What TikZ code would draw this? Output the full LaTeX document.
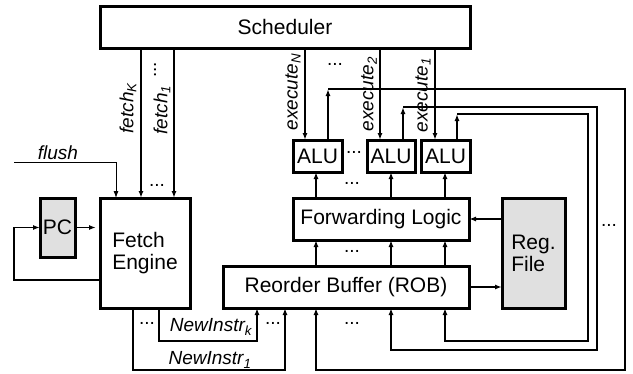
\documentclass[tikz,border=0pt]{standalone}
\usepackage{fontspec}
\setmainfont{Liberation Sans}
\usetikzlibrary{arrows.meta}
\definecolor{boxgray}{RGB}{224,224,224}
\begin{document}
\begin{tikzpicture}[x=1pt,y=-1pt,
  blk/.style={draw,line width=3pt,inner sep=0pt,outer sep=0pt,font=\fontsize{21}{22}\selectfont},
  shaded/.style={blk,fill=boxgray},
  conn/.style={line width=1.8pt,-{Latex[length=7pt,width=5pt]}},
  lbl/.style={font=\fontsize{19}{20}\selectfont\itshape,inner sep=0pt},
  dots/.style={font=\fontsize{19}{20}\selectfont,inner sep=0pt}]
\useasboundingbox (0,0) rectangle (633,373);
% blocks
\node[blk,minimum width=370pt,minimum height=42pt] (sched) at (285,27) {Scheduler};
\node[blk,minimum width=90pt,minimum height=110pt,align=left] (fetch) at (145,253) {Fetch\\Engine};
\node[shaded,minimum width=35pt,minimum height=59pt] (pc) at (57.5,227.5) {PC};
\node[blk,minimum width=49pt,minimum height=32pt] (aluN) at (317.5,156) {ALU};
\node[blk,minimum width=48pt,minimum height=32pt] (alu2) at (391,156) {ALU};
\node[blk,minimum width=49pt,minimum height=32pt] (alu1) at (445.5,156) {ALU};
\node[blk,minimum width=176pt,minimum height=42pt] (fl) at (381,219) {Forwarding Logic};
\node[blk,minimum width=246pt,minimum height=42pt] (rob) at (346,287) {Reorder Buffer (ROB)};
\node[shaded,minimum width=63pt,minimum height=110pt,align=left] (reg) at (533.5,253) {Reg.\\File};
% column coordinates
\coordinate (cK) at (141,0);
\coordinate (cO) at (174,0);
\coordinate (cfl) at (116,0);
\coordinate (eN) at (305,0);
\coordinate (eB) at (380,0);
\coordinate (eA) at (435,0);
\coordinate (oN) at (328,0);
\coordinate (oB) at (403,0);
\coordinate (oA) at (457,0);
\coordinate (a1) at (316,0);
\coordinate (a2) at (391,0);
\coordinate (a3) at (445,0);
\coordinate (n1) at (133,0);
\coordinate (nk) at (159,0);
\coordinate (flushstart) at (14,162);
\coordinate (loopc) at (14,280);
% fetch signals
\draw[conn] (cK |- sched.south) -- (cK |- fetch.north);
\draw[conn] (cO |- sched.south) -- (cO |- fetch.north);
\draw[conn,line width=0.9pt] (flushstart) -| (cfl |- fetch.north);
% PC loop
\draw[conn,shorten >=4pt] (pc.east) -- (pc.east -| fetch.west);
\draw[conn] (fetch.west |- loopc) -- (loopc) |- (pc.west);
% execute signals
\draw[conn] (eN |- sched.south) -- (eN |- aluN.north);
\draw[conn] (eB |- sched.south) -- (eB |- alu2.north);
\draw[conn] (eA |- sched.south) -- (eA |- alu1.north);
% FL -> ALU, ROB -> FL
\foreach \c/\a in {a1/aluN,a2/alu2,a3/alu1}{
  \draw[conn] (\c |- fl.north) -- (\c |- \a.south);
  \draw[conn] (\c |- rob.north) -- (\c |- fl.south);
}
\draw[conn] (reg.west |- fl.east) -- (fl.east);
\draw[conn] (rob.east) -- (rob.east -| reg.west);
% ALU results back to ROB
\coordinate (tN) at (328,89);
\coordinate (tB) at (403,107);
\coordinate (tA) at (457,114);
\draw[conn] (oN |- aluN.north) -- (tN);
\draw[conn] (oB |- alu2.north) -- (tB);
\draw[conn] (oA |- alu1.north) -- (tA);
\draw[conn] (tN) -- (625,89) -- (625,370) -- (316,370) -- (a1 |- rob.south);
\draw[conn] (tB) -- (597,107) -- (597,350) -- (391,350) -- (a2 |- rob.south);
\draw[conn] (tA) -- (588,114) -- (588,341) -- (445,341) -- (a3 |- rob.south);
% new instructions
\draw[conn] (n1 |- fetch.south) -- (133,370) -- (285,370) -- (285,0 |- rob.south);
\draw[conn] (nk |- fetch.south) -- (159,341) -- (257,341) -- (257,0 |- rob.south);
% labels
\node[lbl,rotate=90] (lfK) at (128,108) {fetch\textsubscript{K}};
\node[lbl,rotate=90] (lf1) at (162,110) {fetch\textsubscript{1}};
\node[dots,rotate=90] (d0) at (155,70) {...};
\node[dots] (d1) at (157,185) {...};
\node[lbl] (lflush) at (58,153) {flush};
\node[lbl,rotate=90] (leN) at (293,92) {execute\textsubscript{N}};
\node[lbl,rotate=90] (le2) at (369,94) {execute\textsubscript{2}};
\node[lbl,rotate=90] (le1) at (423,95) {execute\textsubscript{1}};
\node[dots] (d2) at (335,64) {...};
\node[dots] (d3) at (354,152) {...};
\node[dots] (d4) at (352,183) {...};
\node[dots] (d5) at (352,251) {...};
\node[dots] (d6) at (352,323) {...};
\node[dots] (d7) at (609,225) {...};
\node[dots] (d8) at (147,323) {...};
\node[dots] (d9) at (273,323) {...};
\node[lbl] (lnk) at (211,327) {NewInstr\textsubscript{k}};
\node[lbl] (ln1) at (210,360) {NewInstr\textsubscript{1}};
\end{tikzpicture}
\end{document}
